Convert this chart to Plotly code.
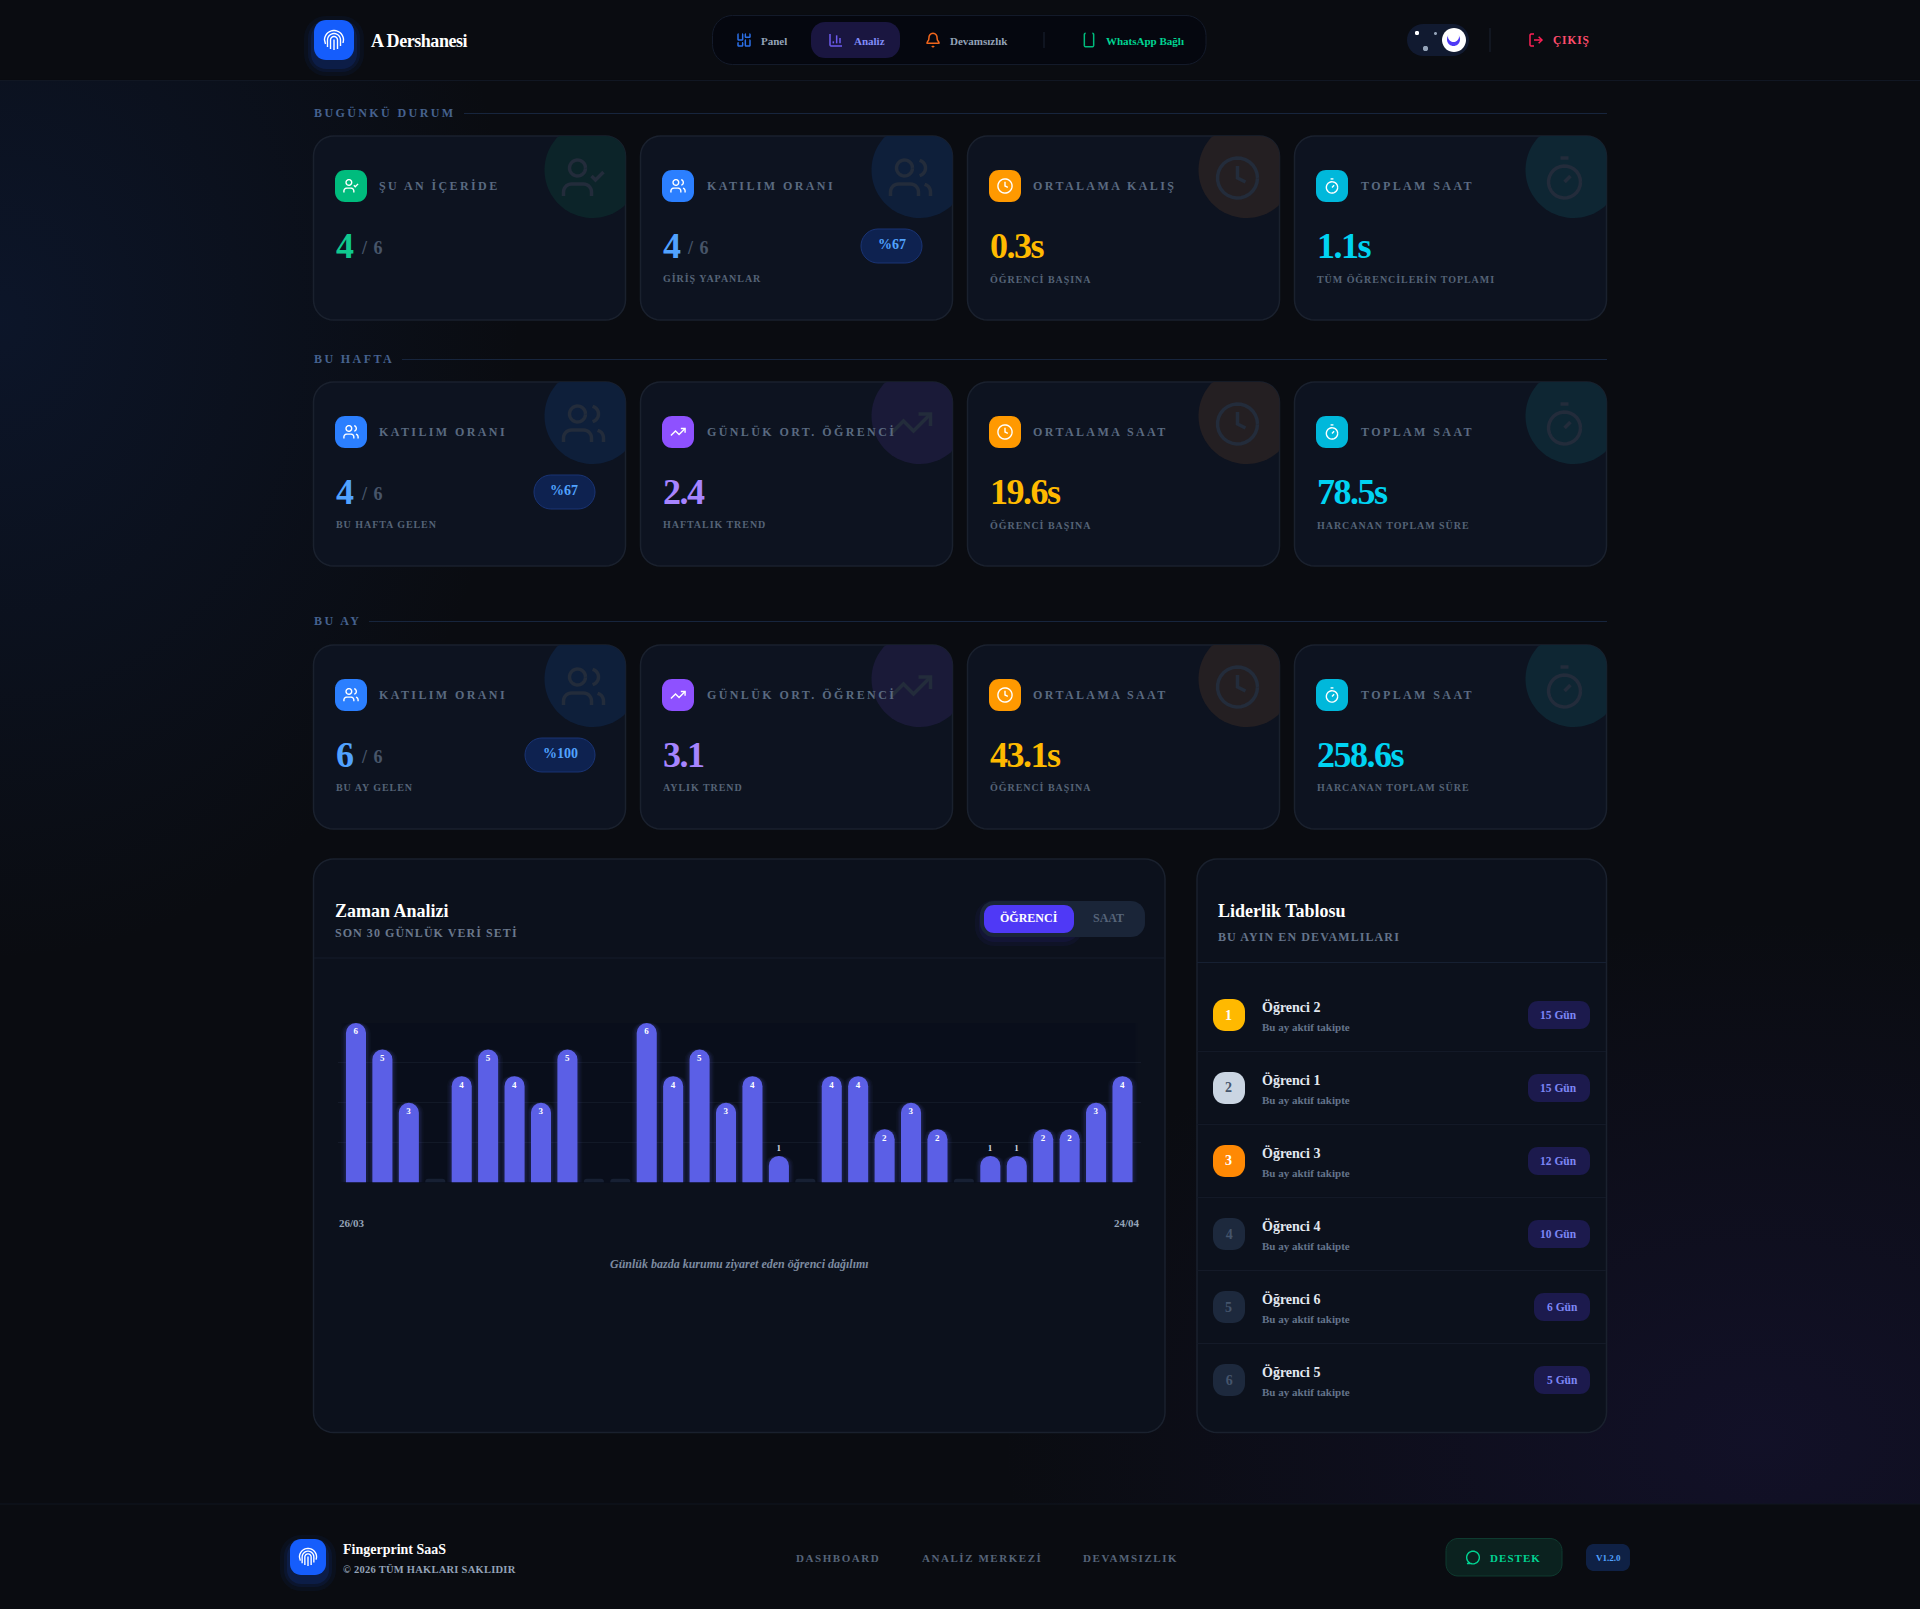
import json

import numpy as np
import plotly.graph_objects as go

W, H = 1920, 1609
FONT = "Liberation Serif"

# chart data
day_labels = [f"{d:02d}/03" for d in range(26, 32)] + [f"{d:02d}/04" for d in range(1, 25)]
student_counts = [6, 5, 3, 0, 4, 5, 4, 3, 5, 0, 0, 6, 4, 5, 3, 4, 1, 0, 4, 4, 2, 3, 2, 0, 1, 1, 2, 2, 3, 4]
y_ticks = [0, 1.5, 3, 4.5, 6]

# stat cards, one list per section
section_titles = ["BUGÜNKÜ DURUM", "BU HAFTA", "BU AY"]
section_labels = [
    ["ŞU AN İÇERİDE", "KATILIM ORANI", "ORTALAMA KALIŞ", "TOPLAM SAAT"],
    ["KATILIM ORANI", "GÜNLÜK ORT. ÖĞRENCİ", "ORTALAMA SAAT", "TOPLAM SAAT"],
    ["KATILIM ORANI", "GÜNLÜK ORT. ÖĞRENCİ", "ORTALAMA SAAT", "TOPLAM SAAT"],
]
section_values = [
    ["4", "4", "0.3s", "1.1s"],
    ["4", "2.4", "19.6s", "78.5s"],
    ["6", "3.1", "43.1s", "258.6s"],
]
section_totals = [
    ["/ 6", "/ 6", "", ""],
    ["/ 6", "", "", ""],
    ["/ 6", "", "", ""],
]
section_pills = [
    ["", "%67", "", ""],
    ["%67", "", "", ""],
    ["%100", "", "", ""],
]
section_subs = [
    ["", "GİRİŞ YAPANLAR", "ÖĞRENCİ BAŞINA", "TÜM ÖĞRENCİLERİN TOPLAMI"],
    ["BU HAFTA GELEN", "HAFTALIK TREND", "ÖĞRENCİ BAŞINA", "HARCANAN TOPLAM SÜRE"],
    ["BU AY GELEN", "AYLIK TREND", "ÖĞRENCİ BAŞINA", "HARCANAN TOPLAM SÜRE"],
]
section_kinds = [
    ["check", "users", "clock", "timer"],
    ["users", "trend", "clock", "timer"],
    ["users", "trend", "clock", "timer"],
]

# leaderboard
leader_names = ["Öğrenci 2", "Öğrenci 1", "Öğrenci 3", "Öğrenci 4", "Öğrenci 6", "Öğrenci 5"]
leader_days = [15, 15, 12, 10, 6, 5]

# colours per card kind: tile, value, corner circle
KIND_STYLE = {
    "check": ("#00bc7d", "#10c98f", "#0c2429"),
    "users": ("#2b7fff", "#51a2ff", "#0e1f3a"),
    "clock": ("#ff9900", "#ffba00", "#241f22"),
    "timer": ("#00b8db", "#00d3f2", "#0e2633"),
    "trend": ("#8e51ff", "#a684ff", "#1a1a38"),
}
RANK_STYLE = [
    ("#ffb900", "#ffffff"),
    ("#cad5e2", "#45556c"),
    ("#ff8904", "#ffffff"),
    ("#1d293d", "#45556c"),
    ("#1d293d", "#45556c"),
    ("#1d293d", "#45556c"),
]

shapes = []
annotations = []
letter_spacing = {}


def px(x):
    return round(x / W, 6)


def py(y):
    return round(1 - y / H, 6)


def to_path(points, close=False):
    d = "M" + "L".join(f"{px(x)},{py(y)}" for x, y in points)
    return d + ("Z" if close else "")


def rounded(x0, y0, x1, y1, r):
    """Outline of a rounded rectangle as a list of points."""
    pts = []
    corners = [(x1 - r, y0 + r, -90), (x1 - r, y1 - r, 0), (x0 + r, y1 - r, 90), (x0 + r, y0 + r, 180)]
    for cx, cy, start in corners:
        for a in np.radians(np.linspace(start, start + 90, 10)):
            pts.append((cx + r * np.cos(a), cy + r * np.sin(a)))
    return pts


def box(x0, y0, x1, y1, r, fill, border=None, width=1):
    shapes.append(
        dict(
            type="path",
            path=to_path(rounded(x0, y0, x1, y1, r), close=True),
            xref="paper",
            yref="paper",
            fillcolor=fill,
            line=dict(color=border or "rgba(0,0,0,0)", width=width if border else 0),
            layer="below",
        )
    )


def hline(x0, x1, y, color, width=1):
    shapes.append(
        dict(type="line", x0=px(x0), x1=px(x1), y0=py(y), y1=py(y), xref="paper", yref="paper",
             line=dict(color=color, width=width), layer="below")
    )


def vline(x, y0, y1, color, width=1):
    shapes.append(
        dict(type="line", x0=px(x), x1=px(x), y0=py(y0), y1=py(y1), xref="paper", yref="paper",
             line=dict(color=color, width=width), layer="below")
    )


def label(x, y, text, size, color, bold=True, anchor="left", spacing=None, italic=False):
    annotations.append(
        dict(
            x=px(x),
            y=py(y),
            xref="paper",
            yref="paper",
            text=text,
            showarrow=False,
            xanchor=anchor,
            yanchor="middle",
            align=anchor,
            borderpad=0,
            font=dict(
                family=FONT,
                size=size,
                color=color,
                weight="bold" if bold else "normal",
                style="italic" if italic else "normal",
            ),
        )
    )
    if spacing is not None:
        letter_spacing[text] = spacing


def arc(cx, cy, r, a0=0, a1=360, n=28):
    return [(cx + r * np.cos(a), cy + r * np.sin(a)) for a in np.radians(np.linspace(a0, a1, n))]


# icons on a 24 unit grid, each one a list of polylines
USER_BODY = [(16, 21), (16, 19)] + arc(12, 19, 4, 0, -90, 8) + arc(6, 19, 4, -90, -180, 8) + [(2, 21)]
ICONS = {
    "users": [
        arc(9, 7, 4),
        USER_BODY,
        arc(15.5, 7, 4, -75, 75, 12),
        [(22, 21), (22, 19)] + arc(18, 19, 4, 0, -75, 8),
    ],
    "check": [arc(9, 7, 4), USER_BODY, [(16, 11), (18, 13), (22, 9)]],
    "clock": [arc(12, 12, 10), [(12, 6), (12, 12), (16, 14)]],
    "timer": [arc(12, 14, 8), [(10, 2), (14, 2)], [(12, 14), (15, 11)]],
    "trend": [[(22, 7), (13.5, 15.5), (8.5, 10.5), (2, 17)], [(16, 7), (22, 7), (22, 13)]],
    "grid": [
        rounded(3, 3, 10, 12, 1) + [(4, 3)],
        rounded(14, 3, 21, 8, 1) + [(15, 3)],
        rounded(14, 12, 21, 21, 1) + [(15, 12)],
        rounded(3, 16, 10, 21, 1) + [(4, 16)],
    ],
    "bars": [[(3, 3), (3, 19)] + arc(5, 19, 2, 180, 90, 6) + [(21, 21)], [(18, 17), (18, 9)], [(13, 17), (13, 5)], [(8, 17), (8, 14)]],
    "bell": [
        [(3.3, 15.3), (2.9, 16.5), (4, 17), (20, 17), (21.1, 16.5), (20.7, 15.3), (18.5, 12), (18, 8)] + arc(12, 8, 6, 0, -180) + [(5.5, 12), (3.3, 15.3)],
        arc(12, 20, 2, 150, 30, 8),
    ],
    "phone": [rounded(5, 2, 19, 22, 2) + [(7, 2)], [(12, 18), (12.01, 18)]],
    "logout": [
        [(9, 3), (5, 3)] + arc(5, 5, 2, -90, -180, 6) + [(3, 19)] + arc(5, 19, 2, 180, 90, 6) + [(9, 21)],
        [(16, 17), (21, 12), (16, 7)],
        [(21, 12), (9, 12)],
    ],
    "message": [arc(12, 12, 9.5, 120, 470, 36) + [(3, 21), (7.9, 20)]],
    "print": [
        [(3.5, 16), (2.5, 12)] + arc(12, 12, 9.5, 180, 360, 24) + [(21, 15)],
        [(5.5, 19), (5.5, 12)] + arc(12, 12, 6.5, 180, 360, 20) + [(18.5, 18)],
        [(8.5, 21), (8.5, 12)] + arc(12, 12, 3.5, 180, 360, 14) + [(15.5, 21)],
        [(12, 11.5), (12, 22)],
    ],
}


def icon(name, x, y, size, color, width=1.5):
    scale = size / 24
    for line in ICONS[name]:
        pts = [(x + a * scale, y + b * scale) for a, b in line]
        shapes.append(
            dict(type="path", path=to_path(pts), xref="paper", yref="paper",
                 line=dict(color=color, width=width), layer="below")
        )


def corner_circle(cx, cy, r, x1, y0, corner, fill):
    """Circle clipped to the top right corner of its card."""
    pts = []
    for x, y in arc(cx, cy, r, 0, 360, 90):
        x, y = min(x, x1), max(y, y0)
        ox, oy = x1 - corner, y0 + corner
        if x > ox and y < oy:
            d = np.hypot(x - ox, y - oy)
            if d > corner:
                x = ox + (x - ox) * corner / d
                y = oy + (y - oy) * corner / d
        pts.append((x, y))
    shapes.append(dict(type="path", path=to_path(pts, close=True), xref="paper", yref="paper",
                       fillcolor=fill, line=dict(width=0), layer="below"))


def fingerprint_tile(x, y, size, r):
    for grow, alpha in [(10, 0.05), (6, 0.08), (3, 0.12)]:
        box(x - grow, y - grow + 6, x + size + grow, y + size + grow + 6, r + grow, f"rgba(21,93,252,{alpha})")
    box(x, y, x + size, y + size, r, "#155dfc")
    inset = size * 0.2
    icon("print", x + inset, y + inset, size - 2 * inset, "#ffffff", 1.4)


# header and footer bands
box(-4, -4, W + 4, 80, 0, "#0a0c11")
hline(0, W, 80.5, "#121824")
box(-4, 1504, W + 4, H + 4, 0, "#0a0c11")
hline(0, W, 1504, "#111722")

fingerprint_tile(314, 20, 40, 12)
label(370, 41, "A Dershanesi", 18, "#ffffff", spacing=-0.45)

box(712.5, 15.5, 1206, 64.5, 20, "#05070f", "#141b2b")
box(811, 22, 900, 58, 14, "#1a1640")
icon("grid", 736, 32, 16, "#2b6fe8")
label(760, 40.5, "Panel", 11, "#94a3b8")
icon("bars", 828, 32, 16, "#6d5cf0")
label(853, 40.5, "Analiz", 11, "#818cf8")
icon("bell", 925, 32, 16, "#f2661c")
label(949, 40.5, "Devamsızlık", 11, "#94a3b8")
vline(1044, 32, 48, "#1a2233")
icon("phone", 1081, 32, 16, "#00bc7d")
label(1105.5, 40.5, "WhatsApp Bağlı", 11, "#00d492")

box(1407, 24, 1469, 56, 16, "#111a30")
box(1442, 28, 1466, 52, 12, "#ffffff")
box(1447, 33, 1460, 46, 6.5, "#4f39f6")
box(1448, 31, 1459, 42, 5.5, "#ffffff")
box(1415, 31, 1419, 35, 1.5, "#ffffff")
box(1434, 32, 1437, 35, 1.5, "#94a3b8")
box(1423, 46, 1428, 51, 2, "#94a3b8")
vline(1490, 28, 52, "#1a2233")
icon("logout", 1528, 32, 16, "#ff2056")
label(1552, 40.5, "ÇIKIŞ", 11.5, "#ff4d6d", spacing=0.8)

# section rows and cards
section_tops = [136, 382, 645]
title_ys = [113, 359, 621]
title_line_starts = [464, 402, 369]
card_lefts = [313.5, 640.5, 967.5, 1294.5]
CARD_W, CARD_H = 312, 184

for s, top in enumerate(section_tops):
    label(313.5, title_ys[s], section_titles[s], 12, "#46628f", spacing=2.4)
    hline(title_line_starts[s], 1607, title_ys[s] + 0.5, "#17253d")
    for c, left in enumerate(card_lefts):
        kind = section_kinds[s][c]
        tile, value_color, glow = KIND_STYLE[kind]
        right = left + CARD_W
        box(left, top, right, top + CARD_H, 20, "#0d1320", "#1a212e", 1.5)
        corner_circle(right - 33, top + 34, 48, right, top, 20, glow)
        icon(kind, right - 66, top + 18, 48, "#232c3b", 3.5)

        box(left + 21.5, top + 34, left + 53.5, top + 66, 10, tile)
        icon(kind, left + 29, top + 41.5, 17, "#ffffff", 1.4)
        label(left + 65, top + 49.5, section_labels[s][c], 12, "#5a6a80", spacing=2.4)

        label(left + 21.5, top + 110, section_values[s][c], 36, value_color, spacing=-1.5)
        if section_totals[s][c]:
            label(left + 46, top + 112, section_totals[s][c], 18, "#475569", spacing=1)
        if section_pills[s][c]:
            pill_w = 70 if len(section_pills[s][c]) > 3 else 61
            pill_r = right - 30.5
            box(pill_r - pill_w, top + 93, pill_r, top + 127, 17, "#0e2250", "#1a3474", 1)
            label(pill_r - pill_w / 2, top + 109, section_pills[s][c], 14, "#51a2ff", anchor="center")
        if section_subs[s][c]:
            label(left + 21.5, top + 142.5, section_subs[s][c], 10, "#556377", spacing=0.95)

# chart panel
box(313.5, 859, 1165, 1432.5, 20, "#0c111c", "#1a212e", 1.5)
hline(314, 1165, 958, "#151c2a")
label(334, 911, "Zaman Analizi", 18, "#ffffff")
label(334, 933, "SON 30 GÜNLÜK VERİ SETİ", 12, "#6a788c", spacing=1.05)
for grow, alpha in [(9, 0.05), (5, 0.08)]:
    box(984 - grow, 905 - grow + 4, 1074 + grow, 933 + grow + 4, 10 + grow, f"rgba(79,57,246,{alpha})")
box(980, 901, 1145, 937, 14, "#1a2538")
box(984, 905, 1074, 933, 10, "#4f39f6")
label(1029, 918.5, "ÖĞRENCİ", 12, "#ffffff", anchor="center")
label(1109, 918.5, "SAAT", 12, "#566479", anchor="center")
label(338, 1223, day_labels[0], 11, "#94a3b8")
label(1141, 1223, day_labels[-1], 11, "#94a3b8", anchor="right")
label(739, 1264, "Günlük bazda kurumu ziyaret eden öğrenci dağılımı", 12, "#7d8ba0", anchor="center", italic=True)

# leaderboard panel
box(1197, 859, 1606.5, 1432.5, 20, "#0c111c", "#1a212e", 1.5)
label(1216.5, 911, "Liderlik Tablosu", 18, "#ffffff")
label(1216.5, 937, "BU AYIN EN DEVAMLILARI", 12, "#64748b", spacing=1.1)
hline(1197, 1606, 962.5, "#162032")
for i, name in enumerate(leader_names):
    center = 1015 + 73 * i
    if i < 5:
        hline(1197, 1606, center + 36.5, "#141a28")
    fill, text_color = RANK_STYLE[i]
    box(1213, center - 16, 1245, center + 16, 12, fill)
    label(1229, center, str(i + 1), 14, text_color, anchor="center")
    label(1261, center - 8, name, 14, "#e2e8f0")
    label(1261, center + 12, "Bu ay aktif takipte", 11, "#64748b")
    days = f"{leader_days[i]} Gün"
    pill_left = 1528 if leader_days[i] >= 10 else 1534
    box(pill_left, center - 14, 1590, center + 14, 10, "#1c1a4d")
    label((pill_left + 1590) / 2, center, days, 11.5, "#7c86f5", anchor="center")

# footer
fingerprint_tile(290, 1539, 36, 11)
label(342, 1549, "Fingerprint SaaS", 14, "#ffffff")
label(342, 1569, "© 2026 TÜM HAKLARI SAKLIDIR", 10.5, "#94a3b8", spacing=0.25)
label(795, 1558, "DASHBOARD", 11, "#566479", spacing=1.55)
label(921, 1558, "ANALİZ MERKEZİ", 11, "#566479", spacing=1.55)
label(1082.5, 1558, "DEVAMSIZLIK", 11, "#566479", spacing=1.55)
box(1446, 1538.5, 1562, 1576, 12, "#0b221f", "#0f3b30", 1)
icon("message", 1465, 1549.5, 16, "#00d492", 1.4)
label(1489, 1557.5, "DESTEK", 11, "#00d492", spacing=1.05)
box(1586, 1544, 1630, 1571, 8, "#0f2145")
label(1608, 1557.5, "V1.2.0", 9, "#51a2ff", anchor="center")

# bars, on a real axis placed inside the panel
plot_x0, plot_x1 = 338, 1141
plot_y_top, plot_y_base = 1023, 1182.5
bar_values = [v if v else None for v in student_counts]

fig = go.Figure()
for width, alpha in [(1.12, 0.035), (1.0, 0.05), (0.9, 0.07)]:
    fig.add_trace(
        go.Bar(x=day_labels, y=bar_values, width=width, marker=dict(color="#6366f1", line=dict(width=0)),
               opacity=alpha, hoverinfo="skip", showlegend=False)
    )
fig.add_trace(
    go.Bar(
        x=day_labels,
        y=[0.14 if v == 0 else None for v in student_counts],
        width=0.76,
        marker=dict(color="#172033", line=dict(width=0)),
        showlegend=False,
    )
)
fig.add_trace(
    go.Bar(
        x=day_labels,
        y=bar_values,
        width=0.76,
        marker=dict(color="#5b5fe6", line=dict(width=0)),
        text=[str(v) if v else "" for v in student_counts],
        textposition=["outside" if v == 1 else "inside" for v in student_counts],
        insidetextanchor="end",
        constraintext="none",
        textangle=0,
        textfont=dict(
            family=FONT,
            size=9,
            weight="bold",
            color=["#cbd5e1" if v == 1 else "#ffffff" for v in student_counts],
        ),
        cliponaxis=False,
        showlegend=False,
    )
)

fig.update_layout(
    width=W,
    height=H,
    margin=dict(l=0, r=0, t=0, b=0),
    autosize=False,
    paper_bgcolor="rgba(0,0,0,0)",
    plot_bgcolor="rgba(0,0,0,0)",
    barmode="overlay",
    barcornerradius=10,
    showlegend=False,
    shapes=shapes,
    annotations=annotations,
    font=dict(family=FONT),
)
fig.update_xaxes(
    domain=[plot_x0 / W, plot_x1 / W],
    type="category",
    range=[-0.68, 29.7],
    showticklabels=False,
    showgrid=False,
    ticks="",
    zeroline=False,
)
fig.update_yaxes(
    domain=[1 - plot_y_base / H, 1 - plot_y_top / H],
    range=[0, 6],
    tickvals=y_ticks,
    showticklabels=False,
    ticks="",
    gridcolor="#151b2a",
    gridwidth=1,
    zeroline=False,
)

# page background and the tracking of the small caps, neither of which plotly has an attribute for
post_script = """
document.body.style.margin = '0';
document.body.style.overflow = 'hidden';
document.body.style.background =
    'radial-gradient(ellipse 520px 640px at 0px 320px, rgba(18,48,110,0.26), rgba(0,0,0,0)),' +
    'radial-gradient(ellipse 760px 520px at 1760px 1440px, rgba(50,35,130,0.20), rgba(0,0,0,0)),' +
    '#0a0c11';
var spacing = %s;
function applySpacing() {
    document.querySelectorAll('.annotation-text').forEach(function (t) {
        if (spacing[t.textContent] !== undefined) t.style.letterSpacing = spacing[t.textContent] + 'px';
    });
}
applySpacing();
setTimeout(applySpacing, 50);
""" % json.dumps(letter_spacing, ensure_ascii=False)

fig.write_html("out.html", post_script=post_script, config=dict(displayModeBar=False))
